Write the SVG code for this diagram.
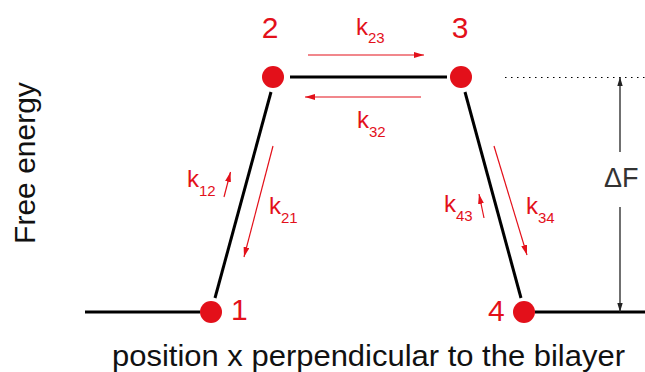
<svg xmlns="http://www.w3.org/2000/svg" width="645" height="372" viewBox="0 0 645 372">
<style>
.red{fill:#e3101a}
.lbl{font-family:"Liberation Sans",Arial,sans-serif;fill:#e3101a}
.num{font-size:30px}
.k{font-size:24px}
.sub{font-size:15px}
.blk{stroke:#000;stroke-width:3;fill:none}
.rarr{stroke:#e3101a;stroke-width:1.2;fill:none;marker-end:url(#ra)}
.garr{stroke:#222;stroke-width:1.3;fill:none;marker-end:url(#ga)}
.axis{font-family:"Liberation Sans",Arial,sans-serif;fill:#111;font-size:30px}
</style>
<defs>
<marker id="ra" viewBox="0 0 10 6" refX="10" refY="3" markerWidth="10" markerHeight="6" markerUnits="userSpaceOnUse" orient="auto"><path d="M0,0L10,3L0,6Z" fill="#e3101a"/></marker>
<marker id="ga" viewBox="0 0 10 6" refX="10" refY="3" markerWidth="9" markerHeight="6" markerUnits="userSpaceOnUse" orient="auto"><path d="M0,0L10,3L0,6Z" fill="#222"/></marker>
</defs>
<rect width="645" height="372" fill="#fff"/>
<g id="connectors">
<line class="blk" x1="85" y1="312" x2="200" y2="312"/>
<line class="blk" x1="535" y1="312" x2="645" y2="312"/>
<line class="blk" x1="290" y1="77" x2="447" y2="77"/>
<line class="blk" x1="271" y1="92" x2="215" y2="298"/>
<line class="blk" x1="465" y1="92" x2="521" y2="298"/>
<line class="rarr" x1="308" y1="55" x2="424" y2="55"/>
<line class="rarr" x1="421" y1="97" x2="305" y2="97"/>
<line class="rarr" x1="224" y1="197" x2="230.5" y2="172"/>
<line class="rarr" x1="273" y1="146" x2="244" y2="257"/>
<line class="rarr" x1="484" y1="218" x2="479" y2="194"/>
<line class="rarr" x1="494" y1="146" x2="527" y2="255"/>
<line x1="505" y1="77.5" x2="645" y2="77.5" stroke="#000" stroke-width="1.2" stroke-dasharray="1.5 4.5"/>
<line class="garr" x1="620" y1="152" x2="620" y2="77"/>
<line class="garr" x1="620" y1="207" x2="620" y2="312"/>
</g>
<g id="node1"><circle class="red" cx="211" cy="312" r="11"/><text class="lbl num" x="231" y="320">1</text></g>
<g id="node2"><circle class="red" cx="273" cy="77" r="11"/><text class="lbl num" x="270" y="38" text-anchor="middle">2</text></g>
<g id="node3"><circle class="red" cx="461" cy="77" r="11"/><text class="lbl num" x="460" y="38" text-anchor="middle">3</text></g>
<g id="node4"><circle class="red" cx="524" cy="312" r="11"/><text class="lbl num" x="488" y="321">4</text></g>
<g id="rate-labels">
<text class="lbl" x="356" y="35"><tspan class="k">k</tspan><tspan class="sub" dy="8">23</tspan></text>
<text class="lbl" x="357" y="128"><tspan class="k">k</tspan><tspan class="sub" dy="9">32</tspan></text>
<text class="lbl" x="187" y="187"><tspan class="k">k</tspan><tspan class="sub" dy="9">12</tspan></text>
<text class="lbl" x="269" y="214"><tspan class="k">k</tspan><tspan class="sub" dy="9">21</tspan></text>
<text class="lbl" x="444" y="212"><tspan class="k">k</tspan><tspan class="sub" dy="9">43</tspan></text>
<text class="lbl" x="526" y="214"><tspan class="k">k</tspan><tspan class="sub" dy="9">34</tspan></text>
</g>
<g id="deltaF"><text x="604" y="187" font-family="'Liberation Sans',Arial,sans-serif" font-size="27" fill="#333">ΔF</text></g>
<g id="axes">
<text class="axis" transform="translate(35,163) rotate(-90)" text-anchor="middle">Free energy</text>
<text class="axis" x="112" y="366" textLength="513" lengthAdjust="spacingAndGlyphs">position x perpendicular to the bilayer</text>
</g>
</svg>
